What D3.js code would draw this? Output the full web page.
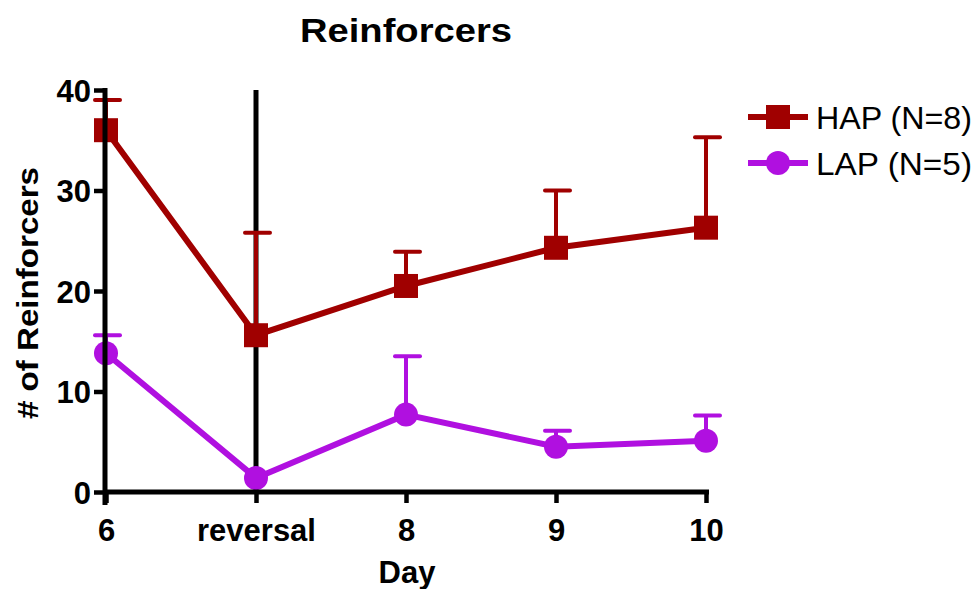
<!DOCTYPE html>
<html><head><meta charset="utf-8">
<script src="https://cdn.jsdelivr.net/npm/d3@7"></script>
<style>body{margin:0;background:#fff}svg{display:block}</style>
</head><body>
<svg id="c" width="976" height="589"></svg>
<script>
const categories = ["6", "reversal", "8", "9", "10"];
const hapMean = [36.0, 15.6, 20.5, 24.3, 26.3];
const hapErr  = [3.0, 10.2, 3.4, 5.7, 9.0];
const lapMean = [13.8, 1.4, 7.7, 4.5, 5.1];
const lapErr  = [1.8, 0.0, 5.8, 1.6, 2.5];
const yTicks = [0, 10, 20, 30, 40];
const seriesNames = ["HAP (N=8)", "LAP (N=5)"];

const svg = d3.select("#c");
const font = "'Liberation Sans', Arial, sans-serif";
const x = d3.scalePoint().domain(categories).range([106, 706]);
const y = d3.scaleLinear().domain([0, 40]).range([492, 90]);

const series = [
  {name: seriesNames[0], mean: hapMean, err: hapErr, color: "#a00000", shape: "square"},
  {name: seriesNames[1], mean: lapMean, err: lapErr, color: "#b010e0", shape: "circle"}
];

// reversal vertical line
svg.append("line").attr("x1", x("reversal")).attr("x2", x("reversal"))
  .attr("y1", y(40)).attr("y2", y(0)).attr("stroke", "#000").attr("stroke-width", 5);

const line = d3.line().x((d, i) => x(categories[i])).y(d => y(d));

function marker(g, shape, cx, cy, color) {
  if (shape === "square") {
    g.append("rect").attr("x", cx - 12).attr("y", cy - 12).attr("width", 24).attr("height", 24).attr("fill", color);
  } else {
    g.append("circle").attr("cx", cx).attr("cy", cy).attr("r", 12).attr("fill", color);
  }
}

series.forEach(s => {
  const g = svg.append("g");
  s.mean.forEach((m, i) => {
    if (s.err[i] <= 0) return;
    const cx = x(categories[i]);
    g.append("line").attr("x1", cx).attr("x2", cx).attr("y1", y(m)).attr("y2", y(m + s.err[i]))
      .attr("stroke", s.color).attr("stroke-width", 4);
    g.append("line").attr("x1", cx - 11).attr("x2", cx + 14).attr("y1", y(m + s.err[i])).attr("y2", y(m + s.err[i]))
      .attr("stroke", s.color).attr("stroke-width", 4).attr("stroke-linecap", "round");
  });
  g.append("path").datum(s.mean).attr("d", line).attr("fill", "none")
    .attr("stroke", s.color).attr("stroke-width", 6);
  s.mean.forEach((m, i) => marker(g, s.shape, x(categories[i]), y(m), s.color));
});

// axes
const yAxis = svg.append("g").attr("transform", "translate(105,0)")
  .call(d3.axisLeft(y).tickValues(yTicks).tickSize(11).tickPadding(3).tickFormat(d3.format("d")));
yAxis.select(".domain").remove();
yAxis.append("line").attr("x1", 0).attr("x2", 0).attr("y1", y(40) - 2).attr("y2", y(0) + 13)
  .attr("stroke", "#000").attr("stroke-width", 5);
yAxis.selectAll(".tick line").attr("stroke", "#000").attr("stroke-width", 4.5);
yAxis.selectAll(".tick text").attr("font-family", font).attr("font-weight", "bold")
  .attr("font-size", 31).attr("fill", "#000").attr("dy", "0.36em");

const xAxis = svg.append("g").attr("transform", "translate(0,492)")
  .call(d3.axisBottom(x).tickSize(11));
xAxis.select(".domain").remove();
xAxis.append("line").attr("x1", 103).attr("x2", 709).attr("y1", 0).attr("y2", 0)
  .attr("stroke", "#000").attr("stroke-width", 5);
xAxis.selectAll(".tick line").attr("stroke", "#000").attr("stroke-width", 4.5);
xAxis.selectAll(".tick text").attr("font-family", font).attr("font-weight", "bold")
  .attr("font-size", 31).attr("fill", "#000").attr("y", 49).attr("dy", 0);

// titles
svg.append("text").attr("x", 406).attr("y", 42).attr("text-anchor", "middle")
  .attr("font-family", font).attr("font-weight", "bold").attr("font-size", 33)
  .attr("textLength", 212).attr("lengthAdjust", "spacingAndGlyphs").text("Reinforcers");
svg.append("text").attr("x", 407).attr("y", 583).attr("text-anchor", "middle")
  .attr("font-family", font).attr("font-weight", "bold").attr("font-size", 31).text("Day");
svg.append("text").attr("transform", "translate(38,293) rotate(-90)").attr("text-anchor", "middle")
  .attr("font-family", font).attr("font-weight", "bold").attr("font-size", 30)
  .attr("textLength", 252).attr("lengthAdjust", "spacingAndGlyphs").text("# of Reinforcers");

// legend
series.forEach((s, i) => {
  const ly = 117 + i * 46;
  const g = svg.append("g");
  g.append("line").attr("x1", 748).attr("x2", 808).attr("y1", ly).attr("y2", ly)
    .attr("stroke", s.color).attr("stroke-width", 6);
  marker(g, s.shape, 778, ly, s.color);
  g.append("text").attr("x", 816).attr("y", ly + 12)
    .attr("font-family", font).attr("font-size", 31).attr("fill", "#000")
    .attr("textLength", 156).attr("lengthAdjust", "spacingAndGlyphs").text(s.name);
});
</script>
</body></html>
